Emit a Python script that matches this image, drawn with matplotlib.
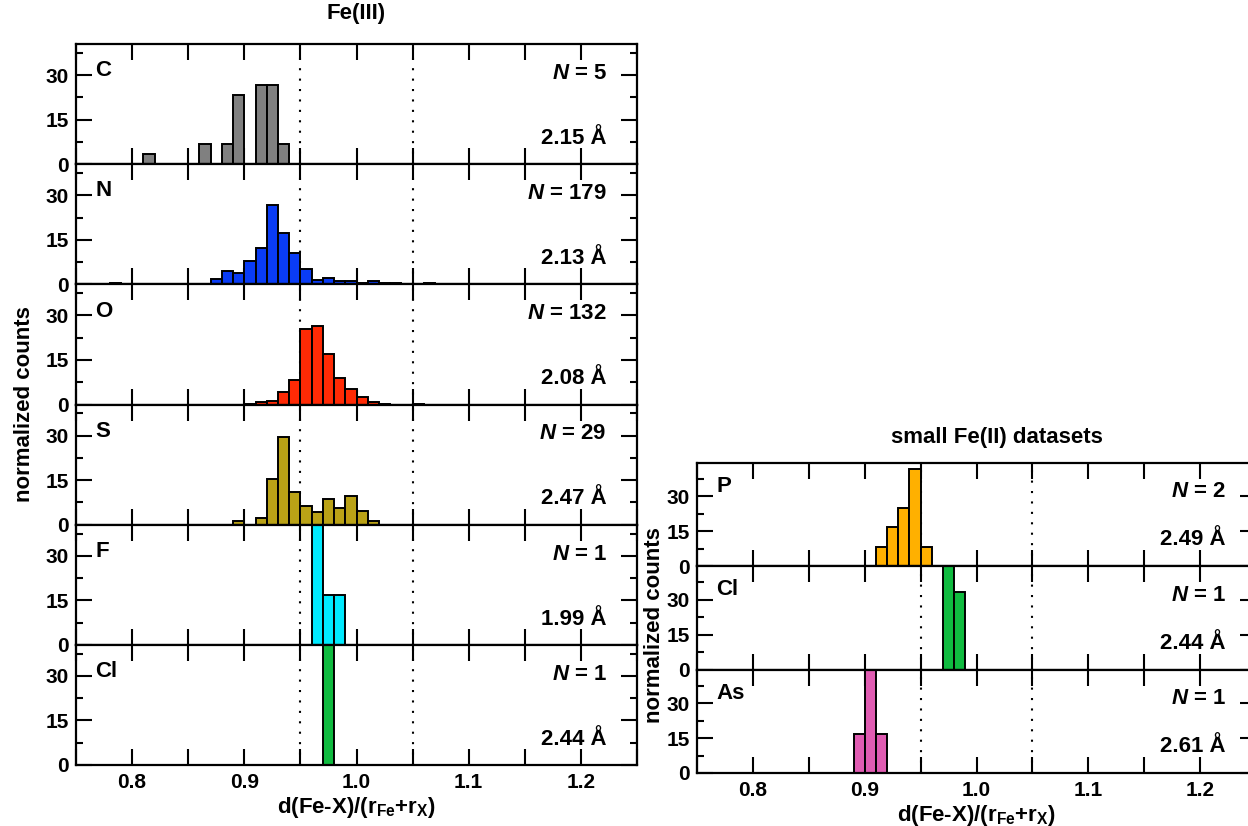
import matplotlib.pyplot as plt
from matplotlib.ticker import MultipleLocator, FixedLocator

plt.rcParams['font.family'] = ['Liberation Sans', 'DejaVu Sans']
plt.rcParams['font.weight'] = 'bold'
plt.rcParams['axes.labelweight'] = 'bold'
plt.rcParams['mathtext.fontset'] = 'custom'
plt.rcParams['mathtext.rm'] = 'Liberation Sans:bold'
plt.rcParams['mathtext.it'] = 'Liberation Sans:italic:bold'
plt.rcParams['mathtext.bf'] = 'Liberation Sans:bold'

BIN = 0.01

# Fe(III) histograms: left bin edges and normalized counts (%)
c_left = [0.81, 0.86, 0.88, 0.89, 0.91, 0.92, 0.93]
c_vals = [3.3, 6.7, 6.7, 23.3, 26.7, 26.7, 6.7]

n_left = [0.76, 0.78, 0.85, 0.87, 0.88, 0.89, 0.90, 0.91, 0.92, 0.93, 0.94,
          0.95, 0.96, 0.97, 0.98, 0.99, 1.00, 1.01, 1.02, 1.03, 1.04, 1.06]
n_vals = [0.2, 0.4, 0.1, 1.9, 4.4, 3.8, 7.8, 12.4, 26.7, 17.4, 10.6,
          5.0, 1.3, 2.1, 1.1, 1.1, 0.3, 1.1, 0.5, 0.3, 0.2, 0.4]

o_left = [0.90, 0.91, 0.92, 0.93, 0.94, 0.95, 0.96, 0.97, 0.98, 0.99, 1.00,
          1.01, 1.02, 1.05]
o_vals = [0.1, 0.7, 1.1, 4.2, 8.3, 25.3, 26.6, 16.9, 8.9, 5.1, 2.4,
          0.7, 0.2, 0.1]

s_left = [0.89, 0.91, 0.92, 0.93, 0.94, 0.95, 0.96, 0.97, 0.98, 0.99, 1.00, 1.01]
s_vals = [1.1, 2.2, 15.4, 29.4, 10.9, 6.2, 4.2, 8.7, 5.5, 9.8, 4.7, 1.3]

f_left = [0.96, 0.97, 0.98]
f_vals = [66.7, 16.7, 16.7]

cl3_left = [0.97]
cl3_vals = [100.0]

# small Fe(II) datasets
p_left = [0.91, 0.92, 0.93, 0.94, 0.95]
p_vals = [8.3, 16.7, 25.0, 41.7, 8.3]

cl2_left = [0.97, 0.98]
cl2_vals = [66.7, 33.3]

as_left = [0.89, 0.90, 0.91]
as_vals = [16.7, 66.7, 16.7]

fe3_panels = [
    ('C', c_left, c_vals, '#808080', '5', '2.15'),
    ('N', n_left, n_vals, '#0a3cf5', '179', '2.13'),
    ('O', o_left, o_vals, '#ff2a05', '132', '2.08'),
    ('S', s_left, s_vals, '#baa216', '29', '2.47'),
    ('F', f_left, f_vals, '#00eaff', '1', '1.99'),
    ('Cl', cl3_left, cl3_vals, '#10bb40', '1', '2.44'),
]
fe2_panels = [
    ('P', p_left, p_vals, '#ffb000', '2', '2.49'),
    ('Cl', cl2_left, cl2_vals, '#10bb40', '1', '2.44'),
    ('As', as_left, as_vals, '#e05cb2', '1', '2.61'),
]

W, H = 1248, 826
FS_TICK = 15
FS_TEXT = 16
xlabel = r'd(Fe-X)/(r$_{\mathbf{Fe}}$+r$_{\mathbf{X}}$)'


def style_axis(ax, ymax, last):
    ax.set_xlim(0.75, 1.25)
    ax.set_ylim(0, ymax)
    ax.xaxis.set_major_locator(MultipleLocator(0.1))
    ax.xaxis.set_minor_locator(MultipleLocator(0.05))
    ax.yaxis.set_major_locator(FixedLocator([0, 15, 30]))
    ax.yaxis.set_minor_locator(FixedLocator([7.5, 22.5, 37.5]))
    ax.tick_params(which='both', direction='in', top=True, right=True,
                   width=1.5, labelsize=FS_TICK)
    ax.tick_params(axis='x', which='both', length=11.5, pad=6)
    ax.tick_params(axis='y', which='major', length=11.5, pad=5)
    ax.tick_params(axis='y', which='minor', length=5)
    for s in ax.spines.values():
        s.set_linewidth(1.6)
    if not last:
        ax.tick_params(axis='x', labelbottom=False)
    else:
        ax.set_xlabel(xlabel, fontsize=FS_TEXT, fontweight='bold', labelpad=2)


def draw_panel(ax, p, y_el, y_n, y_d):
    el, lefts, vals, color, n, dist = p
    ax.axvline(0.95, color='black', ls=(0, (1, 4)), lw=1.5, zorder=1)
    ax.axvline(1.05, color='black', ls=(0, (1, 4)), lw=1.5, zorder=1)
    ax.bar(lefts, vals, width=BIN, align='edge', color=color,
           edgecolor='black', linewidth=1.4, zorder=2)
    ax.text(0.767, y_el, el, fontsize=FS_TEXT, va='center', ha='left')
    ax.text(1.223, y_n, r'$N$ = ' + n, fontsize=FS_TEXT, va='center', ha='right')
    ax.text(1.223, y_d, dist + ' Å', fontsize=FS_TEXT, va='center', ha='right')


fig = plt.figure(figsize=(W / 100, H / 100), dpi=100)

# left block: Fe(III)
top, bot = 44, 765
h = (bot - top) / len(fe3_panels)
for i, p in enumerate(fe3_panels):
    ax = fig.add_axes([76 / W, 1 - (top + (i + 1) * h) / H, (637 - 76) / W, h / H])
    draw_panel(ax, p, 31.5, 30.6, 8.7)
    style_axis(ax, 40.5, i == len(fe3_panels) - 1)
fig.text((76 + 637) / 2 / W, 1 - 14 / H, 'Fe(III)', fontsize=FS_TEXT, ha='center', va='center')
fig.text(25 / W, 1 - (top + bot) / 2 / H, 'normalized counts', fontsize=FS_TEXT,
         rotation=90, ha='center', va='center')

# right block: small Fe(II) datasets
top, bot = 463, 773
h = (bot - top) / len(fe2_panels)
for i, p in enumerate(fe2_panels):
    ax = fig.add_axes([697 / W, 1 - (top + (i + 1) * h) / H, (1256 - 697) / W, h / H])
    draw_panel(ax, p, 34.2, 32.0, 11.4)
    style_axis(ax, 44.3, i == len(fe2_panels) - 1)
fig.text(997 / W, 1 - 437 / H, 'small Fe(II) datasets', fontsize=FS_TEXT, ha='center', va='center')
fig.text(655 / W, 1 - 625 / H, 'normalized counts', fontsize=FS_TEXT,
         rotation=90, ha='center', va='center')

fig.savefig('out.png', dpi=100)
